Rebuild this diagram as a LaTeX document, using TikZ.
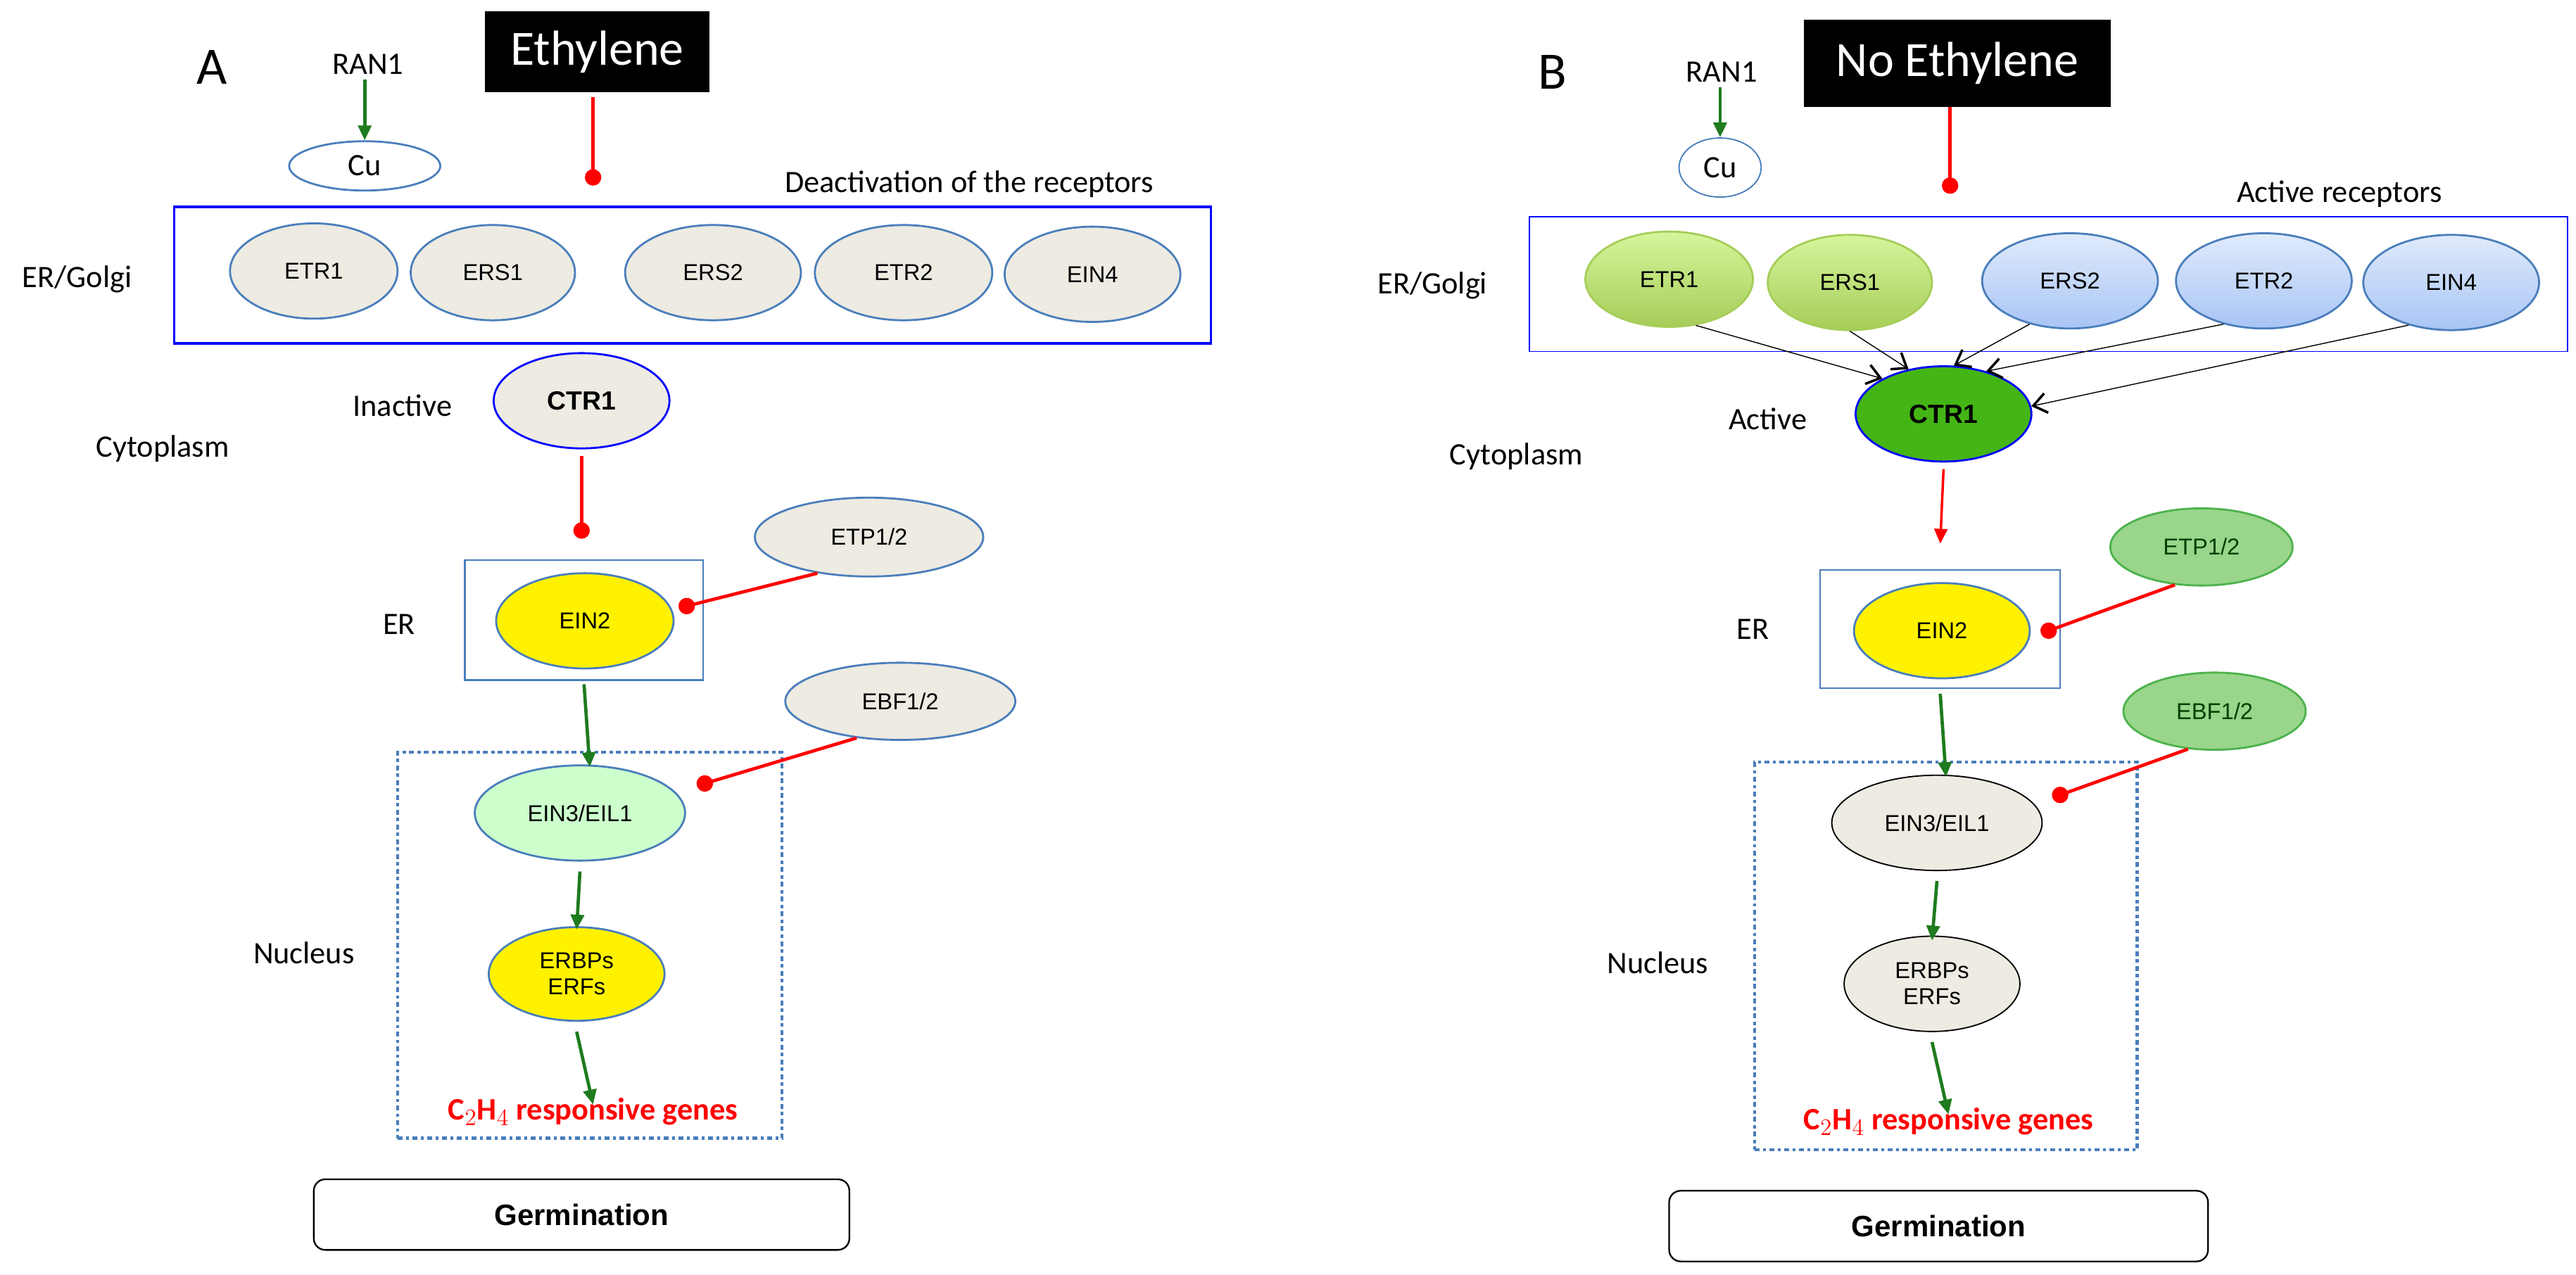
\documentclass[tikz,border=0pt]{standalone}
\usepackage{fontspec}
\setmainfont{Liberation Sans}
\newfontfamily\calfnt{Carlito}
\usetikzlibrary{arrows.meta,shapes.geometric}
\definecolor{gr}{HTML}{EDEBE2}
\definecolor{bl}{HTML}{4A7EBB}
\definecolor{dg}{HTML}{1E7B1E}
\definecolor{lgt}{HTML}{D6F59C}
\definecolor{lgb}{HTML}{A6CD58}
\definecolor{lbt}{HTML}{E0EAFB}
\definecolor{lbb}{HTML}{A8C5F5}
\definecolor{ctrg}{HTML}{44B515}
\definecolor{etpg}{HTML}{99D58A}
\tikzset{
 el/.style={ellipse,draw=bl,line width=1.2pt,fill=gr,minimum width=104pt,minimum height=58pt,font=\fontsize{14}{16}\selectfont,inner sep=0pt},
 lab/.style={font=\calfnt\fontsize{19}{22}\selectfont,inner sep=0pt},
 inh/.style={red,line width=2pt,-{Circle[length=10pt,width=10pt]},shorten >=-5pt},
 act/.style={dg,line width=2pt,-{Triangle[length=9pt,width=8pt]}},
 rec/.style={black,line width=0.6pt,-{Straight Barb[length=8pt,width=12pt,line width=1.5pt]}},
 gg/.style={el,draw=lgb,top color=lgt,bottom color=lgb},
 bb/.style={el,draw=bl,top color=lbt,bottom color=lbb},
 gn/.style={el,draw=green!40!gray,fill=etpg,text=green!25!black,minimum width=111pt,minimum height=47pt},
 germ/.style={draw,rounded corners=7pt,line width=1pt,font=\bfseries\fontsize{18}{20}\selectfont},
 c2/.style={red,font=\calfnt\bfseries\fontsize{19}{22}\selectfont,inner sep=0pt}
}
\begin{document}
\begin{tikzpicture}[x=1pt,y=-1pt]
\useasboundingbox (0,0) rectangle (1568,776);
% ===== Panel A =====
\node[lab,font=\calfnt\fontsize{32}{34}\selectfont] (A) at (129,41) {A};
\node[lab] (ranA) at (224,39) {RAN1};
\node[ellipse,draw=bl,line width=1.2pt,minimum width=92pt,minimum height=30pt,inner sep=0pt,lab] (cuA) at (222,101) {Cu};
\draw[act] (ranA.south) ++(-2,3) coordinate (ranAs) -- (cuA.north);
\node[fill=black,text=white,minimum width=137pt,minimum height=49pt,font=\calfnt\fontsize{30}{32}\selectfont] (ethA) at (363.5,31.5) {Ethylene};
\coordinate (ethAe) at (361,108);
\draw[inh] ([shift={(-2.5pt,-3pt)}]ethA.south) -- (ethAe);
\node[lab] (deact) at (590,112) {Deactivation of the receptors};
\node[draw=blue,line width=1.5pt,minimum width=631pt,minimum height=83pt] (golgiA) at (421.5,167.5) {};
\node[lab] (golA) at (47,170) {ER/Golgi};
\node[el,minimum width=102pt] (etr1A) at (191,165) {ETR1};
\node[el,minimum width=100pt] (ers1A) at (300,166) {ERS1};
\node[el,minimum width=107pt] (ers2A) at (434,166) {ERS2};
\node[el,minimum width=108pt] (etr2A) at (550,166) {ETR2};
\node[el,minimum width=107pt] (ein4A) at (665,167) {EIN4};
\node[el,draw=blue,minimum width=107pt,font=\bfseries\fontsize{16}{18}\selectfont] (ctrA) at (354,244) {CTR1};
\node[lab] (inact) at (245,247) {Inactive};
\node[lab] (cytA) at (99,273) {Cytoplasm};
\node[draw=bl,line width=1.2pt,minimum width=145pt,minimum height=73pt] (erA) at (355.5,377.5) {};
\node[lab] (erlA) at (243,380) {ER};
\node[el,fill=yellow,minimum width=108pt] (ein2A) at (356,378) {EIN2};
\coordinate (ctrAe) at (354,323);
\draw[inh] ([yshift=-4pt]ctrA.south) -- (ctrAe);
\node[el,minimum width=139pt,minimum height=48pt] (etpA) at (529,327) {ETP1/2};
\coordinate (etpAe) at (418,369);
\draw[inh] (etpA.-145) -- (etpAe);
\node[el,minimum width=140pt,minimum height=47pt] (ebfA) at (548,427) {EBF1/2};
\node[draw=bl,line width=2pt,dash dot,minimum width=234pt,minimum height=235pt] (nucA) at (359,575.5) {};
\node[lab] (nucl) at (185,580) {Nucleus};
\node[el,fill=green!20,minimum width=128pt] (ein3A) at (353,495) {EIN3/EIL1};
\coordinate (ebfAe) at (429,477);
\draw[inh] (ebfA.-140) -- (ebfAe);
\draw[act] ([yshift=-2pt]erA.south) -- ([yshift=-10pt]nucA.north);
\node[el,fill=yellow,minimum width=107pt,minimum height=57pt,align=center] (erfA) at (351,593) {ERBPs\\ERFs};
\draw[act] ([yshift=-6pt]ein3A.south) -- ([yshift=-2pt]erfA.north);
\node[c2] (c2A) at (361,677) {C$_2$H$_4$ responsive genes};
\draw[act] ([yshift=-6pt]erfA.south) -- ([yshift=-4pt]c2A.north);
\node[germ,minimum width=326pt,minimum height=43pt] (gA) at (354,739.5) {Germination};
% ===== Panel B =====
\node[lab,font=\calfnt\fontsize{32}{34}\selectfont] (B) at (945,44) {B};
\node[lab] (ranB) at (1048,44) {RAN1};
\node[ellipse,draw=bl,line width=0.8pt,minimum width=50pt,minimum height=36pt,inner sep=0pt,lab] (cuB) at (1047,102) {Cu};
\draw[act] (ranB.south) ++(-1,3) coordinate (ranBs) -- (cuB.north);
\node[fill=black,text=white,minimum width=187pt,minimum height=53pt,font=\calfnt\fontsize{30}{32}\selectfont] (ethB) at (1191.5,38.5) {No Ethylene};
\coordinate (ethBe) at (1187,113);
\draw[inh] (ethB.south) ++(-4.5,0) coordinate (ethBs) -- (ethBe);
\node[lab] (actr) at (1424,118) {Active receptors};
\node[draw=blue,line width=0.8pt,minimum width=632pt,minimum height=82pt] (golgiB) at (1247,173) {};
\node[lab] (golB) at (872,174) {ER/Golgi};
\node[gg,minimum width=102pt] (etr1B) at (1016,170) {ETR1};
\node[gg,minimum width=100pt] (ers1B) at (1126,172) {ERS1};
\node[bb,minimum width=107pt] (ers2B) at (1260,171) {ERS2};
\node[bb,minimum width=107pt] (etr2B) at (1378,171) {ETR2};
\node[bb,minimum width=107pt] (ein4B) at (1492,172) {EIN4};
\node[el,draw=blue,fill=ctrg,minimum width=107pt,font=\bfseries\fontsize{16}{18}\selectfont] (ctrB) at (1183,252) {CTR1};
\draw[rec] (etr1B.-60) -- (ctrB.150);
\draw[rec] (ers1B.-90) -- (ctrB.128);
\draw[rec] (ers2B.-133) -- (ctrB.78);
\draw[rec] (etr2B.-133) -- (ctrB.45);
\draw[rec] (ein4B.-135) -- (ctrB.5);
\node[lab] (actv) at (1076,255) {Active};
\node[lab] (cytB) at (923,278) {Cytoplasm};
\node[draw=bl,line width=0.8pt,minimum width=146pt,minimum height=72pt] (erB) at (1181,383) {};
\node[lab] (erlB) at (1067,383) {ER};
\node[el,fill=yellow,minimum width=107pt] (ein2B) at (1182,384) {EIN2};
\coordinate (ctrBe) at (1181,331);
\draw[red,line width=1.5pt,-{Triangle[length=9pt,width=8pt]}] ([yshift=-4pt]ctrB.south) -- (ctrBe);
\node[gn] (etpB) at (1340,333) {ETP1/2};
\coordinate (etpBe) at (1247,384);
\draw[inh] (etpB.-125) -- (etpBe);
\node[gn] (ebfB) at (1348,433) {EBF1/2};
\node[draw=bl,line width=2pt,dash dot,minimum width=233pt,minimum height=236pt] (nucB) at (1184.5,582) {};
\node[lab] (nuclB) at (1009,586) {Nucleus};
\node[el,draw=black,line width=0.8pt,minimum width=128pt] (ein3B) at (1179,501) {EIN3/EIL1};
\coordinate (ebfBe) at (1254,484);
\draw[inh] (ebfB.-125) -- (ebfBe);
\draw[act] ([yshift=-3pt]erB.south) -- ([yshift=-10pt]nucB.north);
\node[el,draw=black,line width=0.8pt,minimum width=107pt,align=center] (erfB) at (1176,599) {ERBPs\\ERFs};
\draw[act] ([yshift=-6pt]ein3B.south) -- ([yshift=-3pt]erfB.north);
\node[c2] (c2B) at (1186,683) {C$_2$H$_4$ responsive genes};
\draw[act] ([yshift=-6pt]erfB.south) -- ([yshift=-4pt]c2B.north);
\node[germ,minimum width=328pt,minimum height=43pt] (gB) at (1180,746.5) {Germination};
\end{tikzpicture}
\end{document}
